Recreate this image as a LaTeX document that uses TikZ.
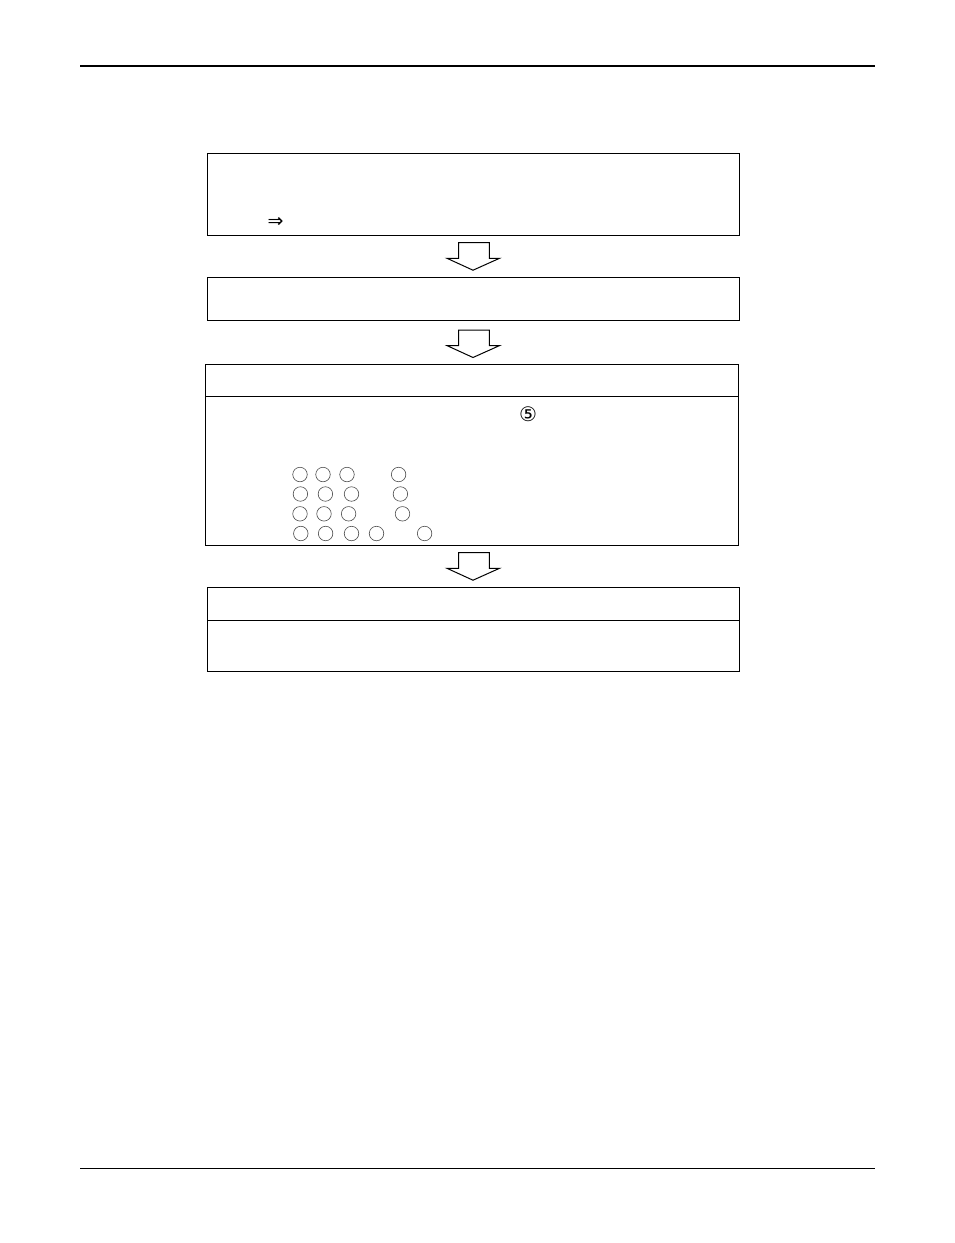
\documentclass[tikz,border=0pt]{standalone}
\usepackage{fontspec}
\newfontfamily\symfont{DejaVu Sans}
\begin{document}
\begin{tikzpicture}[x=1pt,y=-1pt,
  box/.style={draw=black,line width=1pt,inner sep=0pt,outer sep=0pt,anchor=north west},
  blockarrow/.style={draw=black,line width=1pt,fill=white,line join=miter},
  ring/.style={draw=black!70,line width=0.6pt,circle,minimum size=14.5pt,inner sep=0pt},
  sym/.style={inner sep=0pt}]
\useasboundingbox[fill=white] (0,0) rectangle (954,1243);
% page rules
\draw[line width=2.6pt] (80,66) -- (875,66);
\draw[line width=0.8pt] (80,1168) -- (875,1168);
% boxes
\node[box,minimum width=532pt,minimum height=82pt] (b1) at (207,153) {};
\node[box,minimum width=532pt,minimum height=43pt] (b2) at (207,277) {};
\node[box,minimum width=533pt,minimum height=181pt] (b3) at (205,364) {};
\draw[line width=1pt] (b3.west |- 0,396.5) -- (b3.east |- 0,396.5);
\node[box,minimum width=532pt,minimum height=83.5pt] (b4) at (207,587.5) {};
\draw[line width=1pt] (b4.west |- 0,620.5) -- (b4.east |- 0,620.5);
% texts
\node[sym,font=\symfont\fontsize{19}{20}\selectfont] (imp) at (275.5,222) {⇒};
\node[sym,font=\symfont\fontsize{20}{22}\selectfont] (five) at (528,414.5) {⑤};
% block arrows
\foreach \t/\n in {242.7/a1,330/a2,552.7/a3}{
  \draw[blockarrow] (458.5,\t) -- (489.4,\t) -- (489.4,\t+15.6) -- (499.5,\t+15.6)
     -- (473,\t+27.5) -- (447,\t+15.6) -- (458.5,\t+15.6) -- cycle;
}
% circles
\foreach \x [count=\i] in {300,323,347,398.6}{\node[ring] (r1c\i) at (\x,474.5) {};}
\foreach \x [count=\i] in {300.4,325.4,351.5,400.4}{\node[ring] (r2c\i) at (\x,494) {};}
\foreach \x [count=\i] in {300,324,348.6,402.5}{\node[ring] (r3c\i) at (\x,513.8) {};}
\foreach \x [count=\i] in {300.8,325.6,351.5,376.5,424.6}{\node[ring] (r4c\i) at (\x,533.5) {};}
\end{tikzpicture}
\end{document}
